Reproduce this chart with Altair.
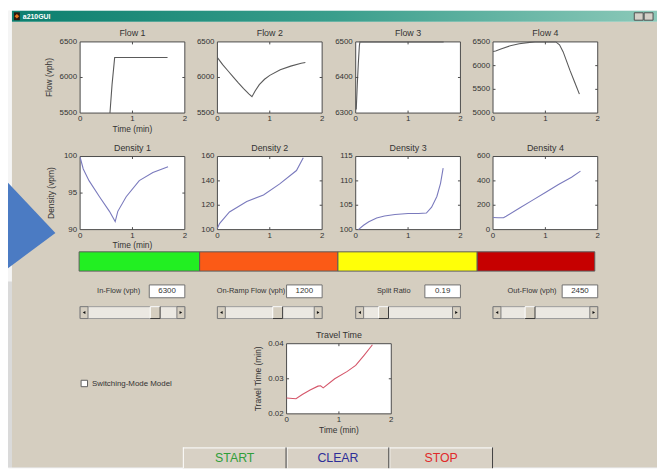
import altair as alt
import pandas as pd

# ---------------- data ----------------
x_ticks = [0, 1, 2]

flow1_t = [0.57, 0.61, 0.66, 1.00, 1.40, 1.67]
flow1_v = [5500, 5900, 6280, 6280, 6280, 6280]
flow2_t = [0, 0.1, 0.2, 0.3, 0.4, 0.5, 0.6, 0.66, 0.72, 0.8, 0.9, 1.0, 1.2, 1.4, 1.6, 1.68]
flow2_v = [6280, 6180, 6095, 6010, 5925, 5845, 5770, 5730, 5810, 5900, 5975, 6030, 6110, 6160, 6200, 6210]
flow3_t = [0.01, 0.03, 0.05, 0.07, 0.08, 0.5, 1.0, 1.68]
flow3_v = [6310, 6380, 6440, 6490, 6500, 6500, 6500, 6500]
flow4_t = [0, 0.05, 0.15, 0.33, 0.5, 0.7, 0.8, 1.0, 1.2, 1.27, 1.34, 1.47, 1.56, 1.65]
flow4_v = [6300, 6310, 6350, 6420, 6460, 6490, 6500, 6500, 6500, 6440, 6290, 5900, 5650, 5400]

dens1_t = [0, 0.06, 0.17, 0.37, 0.56, 0.67, 0.72, 0.88, 1.13, 1.39, 1.68]
dens1_v = [99.9, 98.3, 96.7, 94.5, 92.5, 91.1, 92.5, 94.5, 96.7, 97.8, 98.6]
dens2_t = [0, 0.04, 0.23, 0.56, 0.88, 1.19, 1.51, 1.64]
dens2_v = [101, 105, 114.5, 123, 128.5, 137.5, 148.5, 159]
dens3_t = [0.05, 0.15, 0.25, 0.4, 0.55, 0.75, 1.0, 1.2, 1.35, 1.45, 1.55, 1.62, 1.67]
dens3_v = [100, 100.9, 101.6, 102.4, 102.8, 103.1, 103.3, 103.3, 103.4, 104.6, 106.8, 109.5, 112.6]
dens4_t = [0, 0.1, 0.2, 0.25, 0.5, 0.75, 1.0, 1.25, 1.5, 1.67]
dens4_v = [100, 98, 98, 110, 175, 240, 305, 370, 430, 480]

travel_t = [0, 0.18, 0.3, 0.45, 0.6, 0.65, 0.7, 0.92, 1.16, 1.32, 1.48, 1.64]
travel_v = [0.0245, 0.0243, 0.0255, 0.0268, 0.0279, 0.0280, 0.0274, 0.0300, 0.0321, 0.0338, 0.0367, 0.0397]

flow_titles = ["Flow 1", "Flow 2", "Flow 3", "Flow 4"]
dens_titles = ["Density 1", "Density 2", "Density 3", "Density 4"]
flow_ticks = [[5500, 6000, 6500], [5500, 6000, 6500], [6300, 6400, 6500], [5000, 5500, 6000, 6500]]
dens_ticks = [[90, 95, 100], [100, 120, 140, 160], [100, 105, 110, 115], [0, 200, 400, 600]]
travel_ticks = [0.02, 0.03, 0.04]

status_colors = ["#22ef22", "#fb5a16", "#ffff08", "#c60000"]
control_labels = ["In-Flow (vph)", "On-Ramp Flow (vph)", "Split Ratio", "Out-Flow (vph)"]
control_values = [6300, 1200, 0.19, 2450]
control_max = [8000, 2000, 1, 8000]
button_labels = ["START", "CLEAR", "STOP"]
button_colors = ["#2f9e3a", "#2d2e98", "#e02a2a"]

# ---------------- layout / style ----------------
OFF = 8
W, H = 657, 462
FONT = "Liberation Sans"
BG = "#d5cec0"
FRAME = "#4a4a4a"
TXT = "#333333"
COL_X = [(81, 187), (220, 326), (360, 466), (499, 605)]
ROW_FLOW = (39.5, 111.5)
ROW_DENS = (155.5, 229.5)
TRAVEL_BOX = (290, 396, 345, 416)
BAR_EDGES = [80, 202, 342, 483, 602]


def px(v):
    return v - OFF


def make_plot(t, v, ydom, yticks, color, box, title, xtitle=None, ytitle=None,
              yfmt="{:d}", ytoff=26):
    l, r, top, bot = [px(b) for b in box]
    xs = alt.Scale(domain=[x_ticks[0], x_ticks[-1]], range=[l, r], nice=False, zero=False)
    ys = alt.Scale(domain=[ydom[0], ydom[-1]], range=[bot, top], nice=False, zero=False)

    def enc(xf, yf):
        return dict(x=alt.X(xf, scale=xs, axis=None), y=alt.Y(yf, scale=ys, axis=None))

    frame = alt.Chart(pd.DataFrame({"x0": [x_ticks[0]], "x1": [x_ticks[-1]],
                                    "y0": [ydom[0]], "y1": [ydom[-1]]})).mark_rect(
        fill="white", stroke=FRAME, strokeWidth=1).encode(
        x2="x1", y2="y1", **enc("x0:Q", "y0:Q"))
    line = alt.Chart(pd.DataFrame({"t": t, "v": v})).mark_line(
        color=color, strokeWidth=1.1).encode(**enc("t:Q", "v:Q"))
    rows = []
    for xt in x_ticks[1:-1]:
        rows.append({"x": xt, "y": ydom[0], "s": "M0,0L0,-1"})
        rows.append({"x": xt, "y": ydom[-1], "s": "M0,0L0,1"})
    for yt in yticks[1:-1]:
        rows.append({"x": x_ticks[0], "y": yt, "s": "M0,0L1,0"})
        rows.append({"x": x_ticks[-1], "y": yt, "s": "M0,0L-1,0"})
    ticks = alt.Chart(pd.DataFrame(rows)).mark_point(
        filled=False, size=25, strokeWidth=1, color=FRAME, opacity=1).encode(
        shape=alt.Shape("s:N", scale=None), **enc("x:Q", "y:Q"))
    xlab = alt.Chart(pd.DataFrame({"x": x_ticks, "y": [ydom[0]] * len(x_ticks),
                                   "txt": [str(k) for k in x_ticks]})).mark_text(
        baseline="top", dy=2, fontSize=8, color=TXT).encode(text="txt:N", **enc("x:Q", "y:Q"))
    ylab = alt.Chart(pd.DataFrame({"x": [x_ticks[0]] * len(yticks), "y": yticks,
                                   "txt": [yfmt.format(k) for k in yticks]})).mark_text(
        align="right", baseline="middle", dx=-3, fontSize=8, color=TXT).encode(
        text="txt:N", **enc("x:Q", "y:Q"))
    parts = [frame, line, ticks, xlab, ylab]
    mid_x = (x_ticks[0] + x_ticks[-1]) / 2
    parts.append(alt.Chart(pd.DataFrame({"x": [mid_x], "y": [ydom[-1]], "txt": [title]})).mark_text(
        baseline="bottom", dy=-4, fontSize=9, color=TXT).encode(text="txt:N", **enc("x:Q", "y:Q")))
    if xtitle:
        parts.append(alt.Chart(pd.DataFrame({"x": [mid_x], "y": [ydom[0]], "txt": [xtitle]})).mark_text(
            baseline="top", dy=12, fontSize=8.5, color=TXT).encode(text="txt:N", **enc("x:Q", "y:Q")))
    if ytitle:
        mid_y = (ydom[0] + ydom[-1]) / 2
        parts.append(alt.Chart(pd.DataFrame({"x": [x_ticks[0]], "y": [mid_y], "txt": [ytitle]})).mark_text(
            angle=270, baseline="bottom", align="center", dy=-ytoff, fontSize=8.5,
            color=TXT).encode(text="txt:N", **enc("x:Q", "y:Q")))
    return alt.layer(*parts)


def rect_layer(rows, **kw):
    df = pd.DataFrame(rows, columns=["x", "x2", "y", "y2", "fill", "stroke"])
    df[["x", "x2"]] -= OFF
    df[["y", "y2"]] -= OFF
    return alt.Chart(df).mark_rect(strokeWidth=1, **kw).encode(
        x=alt.X("x:Q", scale=None), x2="x2", y=alt.Y("y:Q", scale=None), y2="y2",
        fill=alt.Fill("fill:N", scale=None), stroke=alt.Stroke("stroke:N", scale=None))


def rule_layer(rows):
    df = pd.DataFrame(rows, columns=["x", "x2", "y", "y2", "c"])
    df[["x", "x2"]] -= OFF
    df[["y", "y2"]] -= OFF
    return alt.Chart(df).mark_rule(strokeWidth=1).encode(
        x=alt.X("x:Q", scale=None), x2="x2", y=alt.Y("y:Q", scale=None), y2="y2",
        color=alt.Color("c:N", scale=None))


def text_layer(rows, **kw):
    df = pd.DataFrame(rows, columns=["x", "y", "txt", "c"])
    df["x"] -= OFF
    df["y"] -= OFF
    return alt.Chart(df).mark_text(**kw).encode(
        x=alt.X("x:Q", scale=None), y=alt.Y("y:Q", scale=None), text="txt:N",
        color=alt.Color("c:N", scale=None))


layers = []

# window background
layers.append(rect_layer([
    (8, 12, 8, 470, "#f5f5f5", "transparent"),
    (8, 12, 282, 470, "#dadada", "transparent"),
    (12, 665, 19, 470, BG, "transparent"),
]))
layers.append(alt.Chart(pd.DataFrame({"a": [0]})).mark_rect(
    fill={"gradient": "linear", "x1": 0, "x2": 1, "y1": 0, "y2": 0,
          "stops": [{"offset": 0, "color": "#0c7f6e"},
                    {"offset": 0.5, "color": "#3a9e8c"},
                    {"offset": 1, "color": "#8cc9b9"}]}).encode(
    x=alt.value(px(12)), x2=alt.value(W), y=alt.value(0), y2=alt.value(px(19))))
layers.append(rect_layer([
    (642, 651, 10, 17.5, "#d4d0c8", "#505050"),
    (652, 661, 10, 17.5, "#d4d0c8", "#505050"),
    (14, 20, 9.5, 17.5, "#2a1a10", "transparent"),
]))
layers.append(alt.Chart(pd.DataFrame({"a": [0]})).mark_point(
    shape="diamond", filled=True, color="#e8741c", size=22, opacity=1).encode(
    x=alt.value(px(17)), y=alt.value(px(13.5))))
layers.append(text_layer([(23, 13.8, "a210GUI", "white")], align="left",
                         baseline="middle", fontSize=7, fontWeight="bold"))

# plots
flow_data = [(flow1_t, flow1_v), (flow2_t, flow2_v), (flow3_t, flow3_v), (flow4_t, flow4_v)]
dens_data = [(dens1_t, dens1_v), (dens2_t, dens2_v), (dens3_t, dens3_v), (dens4_t, dens4_v)]
for i, (t, v) in enumerate(flow_data):
    l, r = COL_X[i]
    layers.append(make_plot(t, v, flow_ticks[i], flow_ticks[i], "#5a5a5a",
                            (l, r, ROW_FLOW[0], ROW_FLOW[1]), flow_titles[i],
                            xtitle="Time (min)" if i == 0 else None,
                            ytitle="Flow (vph)" if i == 0 else None, ytoff=26))
for i, (t, v) in enumerate(dens_data):
    l, r = COL_X[i]
    layers.append(make_plot(t, v, dens_ticks[i], dens_ticks[i], "#7a7abd",
                            (l, r, ROW_DENS[0], ROW_DENS[1]), dens_titles[i],
                            xtitle="Time (min)" if i == 0 else None,
                            ytitle="Density (vpm)" if i == 0 else None, ytoff=24))
layers.append(make_plot(travel_t, travel_v, travel_ticks, travel_ticks, "#d5566a",
                        TRAVEL_BOX, "Travel Time", xtitle="Time (min)",
                        ytitle="Travel Time (min)", yfmt="{:.2f}", ytoff=24))

# status colour bar
layers.append(rect_layer([
    (BAR_EDGES[k], BAR_EDGES[k + 1], 252, 271.5, status_colors[k], "#5a5a5a")
    for k in range(len(status_colors))
]))

# edit boxes and sliders
box_rows, slider_rows = [], []
for i, (l, r) in enumerate(COL_X):
    box_rows.append((r - 36, r, 285.5, 298.5, "white", "#707070"))
    slider_rows.append((l, r, 307.5, 319.5, "#ebe8e2", "#9a9a9a"))
    slider_rows.append((l, l + 8, 307.5, 319.5, BG, "#7a7a7a"))
    slider_rows.append((r - 8, r, 307.5, 319.5, BG, "#7a7a7a"))
layers.append(rect_layer(box_rows))
layers.append(rect_layer(slider_rows))
arrows = pd.DataFrame({
    "x": [px(l + 4) for l, r in COL_X] + [px(r - 4) for l, r in COL_X],
    "s": ["triangle-left"] * 4 + ["triangle-right"] * 4})
layers.append(alt.Chart(arrows).mark_point(filled=True, color="#111111", size=9,
                                           opacity=1).encode(
    x=alt.X("x:Q", scale=None), y=alt.value(px(313.5)), shape=alt.Shape("s:N", scale=None)))

# slider thumbs positioned by their value
for i, (l, r) in enumerate(COL_X):
    sc = alt.Scale(domain=[0, control_max[i]], range=[px(l + 8 + 5), px(r - 8 - 5)],
                   nice=False, zero=False)
    base = alt.Chart(pd.DataFrame({"val": [control_values[i]]}))
    enc = dict(x=alt.X("val:Q", scale=sc, axis=None), y=alt.value(px(313.5)))
    fill = base.mark_point(shape="M-1,-1.2H1V1.2H-1Z", filled=True, color=BG,
                           size=100, opacity=1).encode(**enc)
    hi = base.mark_point(shape="M-1,1.2V-1.2H1", filled=False, color="#ffffff",
                         size=100, strokeWidth=1, opacity=1).encode(**enc)
    lo = base.mark_point(shape="M1,-1.2V1.2H-1", filled=False, color="#3a3a3a",
                         size=100, strokeWidth=1, opacity=1).encode(**enc)
    layers.append(alt.layer(fill, hi, lo))

# checkbox and buttons
layers.append(rect_layer([
    (82, 88.5, 382, 388.5, "white", "#606060"),
    (185, 499, 450, 471, "#d8d1c5", "transparent"),
]))
layers.append(rule_layer([
    (185, 499, 450.5, 450.5, "#ffffff"),
    (185.5, 185.5, 450, 471, "#ffffff"),
    (290.5, 290.5, 450, 471, "#ffffff"),
    (394.5, 394.5, 450, 471, "#ffffff"),
    (289.5, 289.5, 450, 471, "#404040"),
    (393.5, 393.5, 450, 471, "#404040"),
    (498.5, 498.5, 450, 471, "#404040"),
]))

# arrow overlay from the slide behind
layers.append(alt.Chart(pd.DataFrame({"x": [px(8), px(56)], "y": [px(182), px(233)],
                                      "y2": [px(268.5), px(233)]})).mark_area(
    color="#4b7bc3", opacity=1).encode(
    x=alt.X("x:Q", scale=None), y=alt.Y("y:Q", scale=None), y2="y2"))

# texts
centers = [120, 254, 398.5, 538.5]
layers.append(text_layer(
    [(centers[i], 292, control_labels[i], TXT) for i in range(4)],
    align="center", baseline="middle", fontSize=7.5))
layers.append(text_layer(
    [(COL_X[i][1] - 18, 292, str(control_values[i]), TXT) for i in range(4)],
    align="center", baseline="middle", fontSize=8))
layers.append(text_layer([(93, 385.5, "Switching-Mode Model", TXT)],
                         align="left", baseline="middle", fontSize=8))
btn_centers = [237.5, 342, 446.5]
layers.append(text_layer(
    [(btn_centers[i], 461, button_labels[i], button_colors[i]) for i in range(3)],
    align="center", baseline="middle", fontSize=12.5))

chart = alt.layer(*layers).resolve_scale(x="independent", y="independent").properties(
    width=W, height=H, padding=0, autosize=alt.AutoSizeParams(type="none"),
    background="#ffffff"
).configure_view(stroke="transparent").configure(font=FONT)

chart.save("out.html", embed_options={"renderer": "svg", "actions": False})
